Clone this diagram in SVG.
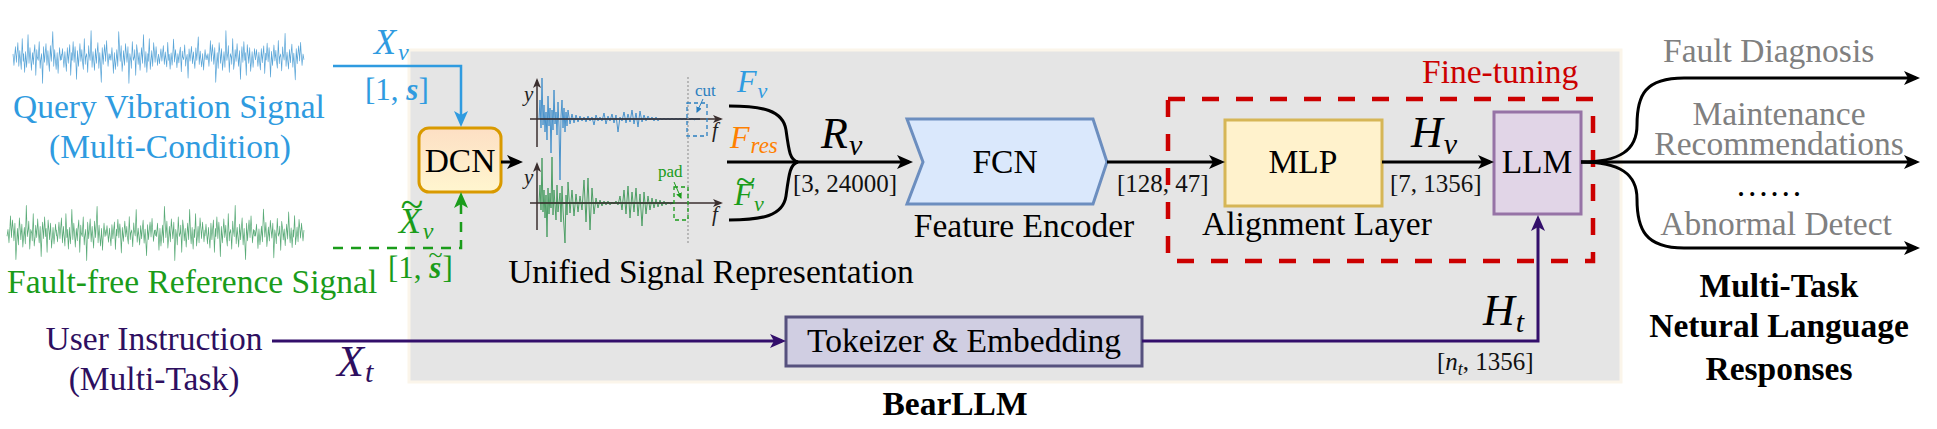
<svg xmlns="http://www.w3.org/2000/svg" xmlns:xlink="http://www.w3.org/1999/xlink" width="1937" height="429" viewBox="0 0 1937 429">
<style>
text{font-family:"Liberation Serif","Times New Roman",serif;}
.t{font-size:33.5px;}
.b{font-weight:bold;}
.dim{font-size:25px;fill:#111;}
.m{font-style:italic;}
.blue{fill:#2f9be0;}
.green{fill:#1a9c1a;}
.purple{fill:#2e0f60;}
.gray{fill:#808080;}
.red{fill:#cc0000;}
.blk{stroke:#000;stroke-width:3;fill:none;}
</style>
<defs>
<marker id="ak" markerUnits="userSpaceOnUse" markerWidth="16" markerHeight="14" viewBox="0 0 16 14" refX="12" refY="7" orient="auto"><path d="M0,0 L16,7 L0,14 L4,7 z" fill="#000"/></marker>
<marker id="ab" markerUnits="userSpaceOnUse" markerWidth="16" markerHeight="14" viewBox="0 0 16 14" refX="12" refY="7" orient="auto"><path d="M0,0 L16,7 L0,14 L4,7 z" fill="#2f9be0"/></marker>
<marker id="ag" markerUnits="userSpaceOnUse" markerWidth="16" markerHeight="14" viewBox="0 0 16 14" refX="12" refY="7" orient="auto"><path d="M0,0 L16,7 L0,14 L4,7 z" fill="#1a9c1a"/></marker>
<marker id="ap" markerUnits="userSpaceOnUse" markerWidth="16" markerHeight="14" viewBox="0 0 16 14" refX="12" refY="7" orient="auto"><path d="M0,0 L16,7 L0,14 L4,7 z" fill="#330f6b"/></marker>
<marker id="ax" markerUnits="userSpaceOnUse" markerWidth="10" markerHeight="8" viewBox="0 0 10 8" refX="8" refY="4" orient="auto"><path d="M0,0 L10,4 L0,8 L2.5,4 z" fill="#3a2e2e"/></marker>
<marker id="asb" markerUnits="userSpaceOnUse" markerWidth="6" markerHeight="6" viewBox="0 0 6 6" refX="5" refY="3" orient="auto"><path d="M0,0 L6,3 L0,6 z" fill="#2a7fc0"/></marker>
<marker id="asg" markerUnits="userSpaceOnUse" markerWidth="6" markerHeight="6" viewBox="0 0 6 6" refX="5" refY="3" orient="auto"><path d="M0,0 L6,3 L0,6 z" fill="#1a9c1a"/></marker>
<linearGradient id="dcnfill" x1="0" y1="0" x2="0" y2="1"><stop offset="0" stop-color="#fddfc4"/><stop offset="1" stop-color="#fff6cf"/></linearGradient>
<path id="noise" d="M0,-3 L2,8 3,2 5,-10 7,5 8,-2 10,-14 12,9 14,-6 15,1 17,12 19,-18 21,4 22,-3 24,15 26,-5 28,10 29,3 31,-22 33,6 35,-9 36,-2 38,13 40,-4 42,7 43,-3 45,-12 47,18 49,-7 50,0 52,3 54,-15 56,11 57,4 59,-3 61,26 63,-10 65,5 66,-1 68,-13 70,8 72,-6 73,2 75,14 77,-11 79,4 80,-5 82,-25 84,9 86,-7 87,1 89,12 91,-4 93,16 94,6 96,-9 98,3 100,-3" fill="none" stroke-linejoin="round"/>
</defs>

<rect x="0" y="0" width="1937" height="429" fill="#fff"/>
<g id="bearllm-frame">
<rect x="409" y="50" width="1212" height="332" fill="#e5e5e5" stroke="#fbf5ea" stroke-width="3"/>
<text x="955" y="415" class="t b" text-anchor="middle">BearLLM</text>
</g>

<g id="query-signal">
<g transform="translate(13,57) scale(0.485,1)" stroke="#5ba6d8" stroke-width="1.5" vector-effect="non-scaling-stroke">
<use xlink:href="#noise"/>
<use xlink:href="#noise" transform="translate(100,0) scale(1,-1)"/>
<use xlink:href="#noise" transform="translate(300,0) scale(-1,1)"/>
<use xlink:href="#noise" transform="translate(300,0) scale(1,0.8)"/>
<use xlink:href="#noise" transform="translate(500,0) scale(-1,-1)"/>
<use xlink:href="#noise" transform="translate(500,0) scale(1,-0.9)"/>
</g>
<text x="13" y="118" class="t blue">Query Vibration Signal</text>
<text x="170" y="158" class="t blue" text-anchor="middle">(Multi-Condition)</text>
</g>

<g id="reference-signal">
<g transform="translate(7,233) scale(0.495,1.05)" stroke="#5aab78" stroke-width="1.5">
<use xlink:href="#noise" transform="translate(100,0) scale(-1,-1)"/>
<use xlink:href="#noise" transform="translate(100,0)"/>
<use xlink:href="#noise" transform="translate(200,0) scale(1,-0.85)"/>
<use xlink:href="#noise" transform="translate(400,0) scale(-1,1)"/>
<use xlink:href="#noise" transform="translate(400,0) scale(1,-1)"/>
<use xlink:href="#noise" transform="translate(600,0) scale(-1,0.9)"/>
</g>
<text x="7" y="293" class="t green">Fault-free Reference Signal</text>
</g>

<g id="user-instruction">
<text x="154" y="350" class="t purple" text-anchor="middle">User Instruction</text>
<text x="154" y="390" class="t purple" text-anchor="middle">(Multi-Task)</text>
</g>

<g id="dcn">
<rect x="419" y="128" width="82" height="64" rx="10" fill="url(#dcnfill)" stroke="#d99a00" stroke-width="3"/>
<text x="460" y="172" class="t" text-anchor="middle">DCN</text>
</g>

<g id="unified-signal-representation">
<path d="M539,119 L540,100 541,128 542,78 543,125 544,105 545,132 546,112 547,140 548,96 549,126 550,108 551,153 552,110 553,130 554,90 555,124 556,112 557,135 558,102 559,127 560,180 561,116 562,100 563,128 564,108 565,132 566,112 567,126 568,110 570,124 572,114 574,123 576,115 578,122 580,116 582,121 584,117 586,122 588,116 590,121 592,117 594,125 596,115 598,121 600,117 602,121 604,113 606,124 608,116 610,121 612,114 614,123 616,115 618,132 620,117 622,121 624,112 626,123 628,114 630,122 632,110 634,124 636,113 638,127 640,111 642,122 644,115 646,121 648,116 650,120 652,117 654,121 656,117 658,121 660,118 662,120 664,118 666,120 668,118 670,120 672,118 674,120 676,118 678,120 680,118 682,120 684,118 686,120 688,118 690,120 692,118 694,120 696,119 700,119" fill="none" stroke="#4a93cc" stroke-width="1"/>
<path d="M539,203 L540,185 541,210 542,158 543,212 544,190 545,218 546,195 547,237 548,188 549,214 550,193 551,208 552,157 553,215 554,190 556,220 557,185 558,212 560,193 561,222 562,186 563,210 565,243 566,195 567,215 568,182 570,213 572,190 574,216 576,194 578,212 580,196 582,210 584,180 586,222 588,178 590,230 592,188 594,214 596,198 598,208 600,200 602,206 604,201 606,205 608,201 610,205 612,202 614,204 616,201 618,205 620,196 622,210 624,190 626,214 628,186 630,218 632,192 634,212 636,188 638,216 640,194 642,226 644,192 646,214 648,196 650,210 652,198 654,208 656,199 658,207 660,200 662,206 664,201 666,205 668,202 670,204 674,203" fill="none" stroke="#4e9f66" stroke-width="1"/>
<line x1="540" y1="119" x2="700" y2="119" stroke="#2f6fa8" stroke-width="1.5"/>
<line x1="540" y1="203" x2="674" y2="203" stroke="#3d8a55" stroke-width="1.5"/>
<g stroke="#3a2e2e" stroke-width="1.5" fill="none">
<line x1="537" y1="147" x2="537" y2="80" marker-end="url(#ax)"/>
<line x1="530" y1="119" x2="721" y2="119" marker-end="url(#ax)"/>
<line x1="537" y1="230" x2="537" y2="164" marker-end="url(#ax)"/>
<line x1="530" y1="203" x2="721" y2="203" marker-end="url(#ax)"/>
</g>
<text x="524" y="101" font-size="21" class="m" fill="#222">y</text>
<text x="524" y="184" font-size="21" class="m" fill="#222">y</text>
<text x="712" y="137" font-size="21" class="m" fill="#222">f</text>
<text x="712" y="221" font-size="21" class="m" fill="#222">f</text>
<line x1="688" y1="77" x2="688" y2="243" stroke="#999" stroke-width="1.2" stroke-dasharray="2,2"/>
<rect x="687" y="103" width="20" height="33" fill="none" stroke="#2a7fc0" stroke-width="1.3" stroke-dasharray="4,3"/>
<text x="695" y="96" font-size="17" fill="#2a7fc0">cut</text>
<line x1="703" y1="99" x2="697" y2="112" stroke="#2a7fc0" stroke-width="1" marker-end="url(#asb)"/>
<rect x="674" y="187" width="14" height="33" fill="none" stroke="#1a9c1a" stroke-width="1.3" stroke-dasharray="4,3"/>
<text x="658" y="177" font-size="17" fill="#1a9c1a">pad</text>
<line x1="674" y1="182" x2="681" y2="198" stroke="#1a9c1a" stroke-width="1" marker-end="url(#asg)"/>
<text x="737" y="92" font-size="32" class="m blue">F<tspan font-size="22" dx="1" dy="6">v</tspan></text>
<text x="730" y="148" font-size="32" class="m" fill="#ff8000">F<tspan font-size="23" dx="1" dy="5">res</tspan></text>
<text x="734" y="205" font-size="32" class="m green">F<tspan font-size="36" dx="-18" dy="-12">~</tspan><tspan font-size="22" dx="-1" dy="18">v</tspan></text>
<text x="711" y="283" class="t" text-anchor="middle">Unified Signal Representation</text>
</g>

<g id="fcn">
<polygon points="907,119 1093,119 1107,162 1093,204 907,204 923,162" fill="#dae8fc" stroke="#6c8ebf" stroke-width="3"/>
<text x="1005" y="173" class="t" text-anchor="middle">FCN</text>
<text x="1024" y="237" class="t" text-anchor="middle">Feature Encoder</text>
</g>

<g id="fine-tuning">
<rect x="1168" y="99" width="425" height="162" fill="none" stroke="#cc0000" stroke-width="4.5" stroke-dasharray="17,17"/>
<text x="1422" y="83" class="t red">Fine-tuning</text>
</g>

<g id="mlp">
<rect x="1225" y="120" width="157" height="86" fill="#fff2cc" stroke="#d6b656" stroke-width="3"/>
<text x="1303" y="173" class="t" text-anchor="middle">MLP</text>
<text x="1317" y="235" class="t" text-anchor="middle">Alignment Layer</text>
</g>

<g id="llm">
<rect x="1494" y="112" width="87" height="102" fill="#e1d5e7" stroke="#9673a6" stroke-width="3"/>
<text x="1537" y="173" class="t" text-anchor="middle">LLM</text>
</g>

<g id="tokenizer">
<rect x="786" y="317" width="356" height="49" fill="#d0cee2" stroke="#56517e" stroke-width="3"/>
<text x="964" y="352" class="t" text-anchor="middle">Tokeizer &amp; Embedding</text>
</g>

<g id="outputs">
<text x="1663" y="62" class="t gray">Fault Diagnosis</text>
<text x="1779" y="125" class="t gray" text-anchor="middle">Maintenance</text>
<text x="1779" y="155" class="t gray" text-anchor="middle">Recommendations</text>
<text x="1769" y="196" class="t" text-anchor="middle">……</text>
<text x="1776" y="235" class="t gray" text-anchor="middle">Abnormal Detect</text>
<text x="1779" y="297" class="t b" text-anchor="middle">Multi-Task</text>
<text x="1779" y="337" class="t b" text-anchor="middle">Netural Language</text>
<text x="1779" y="380" class="t b" text-anchor="middle">Responses</text>
</g>

<g id="connectors">
<path d="M333,66 H461 V123" fill="none" stroke="#2f9be0" stroke-width="2.5" marker-end="url(#ab)"/>
<path d="M333,248 H461 V196" fill="none" stroke="#1a9c1a" stroke-width="2.5" stroke-dasharray="10,8" marker-end="url(#ag)"/>
<path d="M272,341 H782" fill="none" stroke="#330f6b" stroke-width="3" marker-end="url(#ap)"/>
<path d="M501,162 H519" class="blk" marker-end="url(#ak)"/>
<path d="M729,106 C762,106 783,110 786,130 C789,152 790,160 798,162" class="blk"/>
<path d="M729,220 C762,220 783,216 786,196 C789,174 790,164 798,162" class="blk"/>
<path d="M727,162 H909" class="blk" marker-end="url(#ak)"/>
<path d="M1107,162 H1221" class="blk" marker-end="url(#ak)"/>
<path d="M1382,162 H1490" class="blk" marker-end="url(#ak)"/>
<path d="M1142,341 H1538 V219" fill="none" stroke="#330f6b" stroke-width="3" marker-end="url(#ap)"/>
<path d="M1581,162 C1620,162 1637,150 1637,125 C1637,95 1645,78 1684,78 H1916" class="blk" marker-end="url(#ak)"/>
<path d="M1581,162 H1916" class="blk" marker-end="url(#ak)"/>
<path d="M1581,162 C1620,162 1637,174 1637,199 C1637,229 1645,248 1684,248 H1916" class="blk" marker-end="url(#ak)"/>
</g>

<g id="labels">
<text x="374" y="54" font-size="36" class="m blue">X<tspan font-size="24" dx="2" dy="6">v</tspan></text>
<text x="365" y="100" font-size="31" class="blue">[1, <tspan class="m b">s</tspan>]</text>
<text x="399" y="233" font-size="36" class="m green">X<tspan font-size="42" dx="-21" dy="-15">~</tspan><tspan font-size="24" dx="0" dy="21">v</tspan></text>
<text x="388" y="278" font-size="31" class="green">[1, <tspan class="m b">s</tspan><tspan font-size="26" dx="-13" dy="-15">~</tspan><tspan dx="0" dy="15">]</tspan></text>
<text x="337" y="376" font-size="44" class="m purple">X<tspan font-size="30" dx="1" dy="6">t</tspan></text>
<text x="821" y="148" font-size="44" class="m">R<tspan font-size="30" dx="1" dy="7">v</tspan></text>
<text x="793" y="192" class="dim">[3, 24000]</text>
<text x="1117" y="192" class="dim">[128, 47]</text>
<text x="1411" y="147" font-size="44" class="m">H<tspan font-size="30" dx="1" dy="7">v</tspan></text>
<text x="1390" y="192" class="dim">[7, 1356]</text>
<text x="1483" y="325" font-size="44" class="m">H<tspan font-size="30" dx="1" dy="7">t</tspan></text>
<text x="1437" y="370" class="dim">[<tspan class="m">n</tspan><tspan font-size="18" dy="5" class="m">t</tspan><tspan dy="-5">, 1356]</tspan></text>
</g>
</svg>
